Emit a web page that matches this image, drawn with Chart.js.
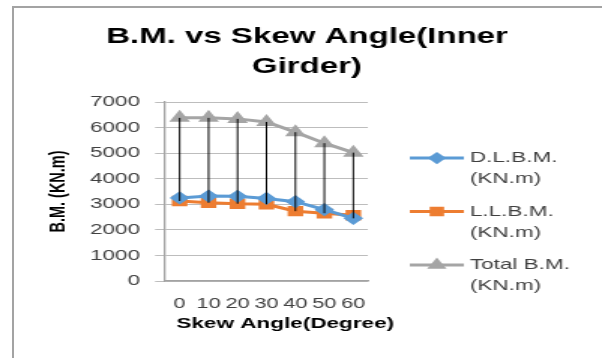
<!DOCTYPE html>
<html lang="en">
<head>
    <meta charset="UTF-8">
    <title>B.M. vs Skew Angle</title>
    <script src="https://cdn.jsdelivr.net/npm/chart.js@4.4.1/dist/chart.umd.min.js"></script>
    <style>
        html, body {
            margin: 0;
            padding: 0;
            background: #ffffff;
        }

        #page {
            position: relative;
            width: 602px;
            height: 358px;
            overflow: hidden;
        }

        /* frame of the chart object (only top and left edge are visible) */
        #frame {
            position: absolute;
            left: 12px;
            top: 6px;
            width: 600px;
            height: 360px;
            border-top: 2px solid #a3a3a3;
            border-left: 2px solid #a3a3a3;
        }

        /* the original picture is stretched horizontally, so we draw narrow and stretch */
        #stretch {
            position: absolute;
            left: 0;
            top: 0;
            width: 401px;
            height: 358px;
            transform: scaleX(1.5012);
            transform-origin: 0 0;
        }
    </style>
</head>
<body>
    <div id="page">
        <div id="frame"></div>
        <div id="stretch">
            <canvas id="bmChart"></canvas>
        </div>
    </div>

    <script>
        // data
        const skewAngles = ['0', '10', '20', '30', '40', '50', '60'];
        const deadLoadBM = [3250, 3320, 3310, 3230, 3100, 2790, 2450];
        const liveLoadBM = [3130, 3060, 3020, 3000, 2730, 2650, 2570];
        const totalBM = [6380, 6380, 6340, 6220, 5820, 5390, 5020];
        const yTicks = [0, 1000, 2000, 3000, 4000, 5000, 6000, 7000];

        const seriesNames = [['D.L.B.M.', '(KN.m)'], ['L.L.B.M.', '(KN.m)'], ['Total B.M.', '(KN.m)']];
        const FONT = "'Liberation Sans', Arial, sans-serif";

        // black high-low lines between the highest and lowest value of each angle
        const highLowLines = {
            id: 'highLowLines',
            afterDatasetsDraw(chart) {
                const ctx = chart.ctx;
                const x = chart.scales.x;
                const y = chart.scales.y;
                ctx.save();
                ctx.strokeStyle = '#000000';
                ctx.lineWidth = 1;
                skewAngles.forEach((a, i) => {
                    const vals = chart.data.datasets.map(d => d.data[i]);
                    const px = x.getPixelForValue(i);
                    ctx.beginPath();
                    ctx.moveTo(px, y.getPixelForValue(Math.max(...vals)));
                    ctx.lineTo(px, y.getPixelForValue(Math.min(...vals)));
                    ctx.stroke();
                });
                ctx.restore();
            }
        };

        // legend on the right with two-line labels, plus the horizontal axis title
        const sideLegend = {
            id: 'sideLegend',
            afterDraw(chart) {
                const ctx = chart.ctx;
                const left = chart.scales.yRight.left;
                const top = chart.chartArea.top;
                ctx.save();
                chart.data.datasets.forEach((ds, i) => {
                    const rowY = top + 56 + i * 53.5;
                    ctx.strokeStyle = ds.borderColor;
                    ctx.lineWidth = 3;
                    ctx.beginPath();
                    ctx.moveTo(left + 28, rowY);
                    ctx.lineTo(left + 64, rowY);
                    ctx.stroke();
                    ctx.fillStyle = ds.pointBackgroundColor;
                    ctx.strokeStyle = ds.pointBackgroundColor;
                    Chart.helpers.drawPoint(ctx, {
                        pointStyle: ds.pointStyle,
                        radius: ds.pointRadius - 0.5,
                        rotation: 0,
                        borderWidth: 1
                    }, left + 46, rowY);

                    ctx.fillStyle = '#404040';
                    ctx.font = '15px ' + FONT;
                    ctx.textAlign = 'left';
                    ctx.textBaseline = 'middle';
                    seriesNames[i].forEach((line, j) => {
                        ctx.fillText(line, left + 68, rowY + j * 21);
                    });
                });

                const area = chart.chartArea;
                ctx.fillStyle = '#000000';
                ctx.font = 'bold 15px ' + FONT;
                ctx.textAlign = 'center';
                ctx.textBaseline = 'middle';
                ctx.fillText('Skew Angle(Degree)', (area.left + area.right) / 2 + 12.5, area.bottom + 43);
                ctx.restore();
            }
        };

        const ctx = document.getElementById('bmChart').getContext('2d');
        new Chart(ctx, {
            type: 'line',
            data: {
                labels: skewAngles,
                datasets: [{
                    label: seriesNames[0].join(' '),
                    data: deadLoadBM,
                    borderColor: '#5b9bd5',
                    backgroundColor: '#5b9bd5',
                    pointBackgroundColor: '#5b9bd5',
                    pointBorderColor: '#5b9bd5',
                    pointStyle: 'rectRot',
                    pointRadius: 4.5,
                    borderWidth: 3,
                    tension: 0
                }, {
                    label: seriesNames[1].join(' '),
                    data: liveLoadBM,
                    borderColor: '#ed7d31',
                    backgroundColor: '#ed7d31',
                    pointBackgroundColor: '#ed7d31',
                    pointBorderColor: '#ed7d31',
                    pointStyle: 'rect',
                    pointRadius: 5.2,
                    borderWidth: 3,
                    tension: 0
                }, {
                    label: seriesNames[2].join(' '),
                    data: totalBM,
                    borderColor: '#a5a5a5',
                    backgroundColor: '#a5a5a5',
                    pointBackgroundColor: '#a5a5a5',
                    pointBorderColor: '#a5a5a5',
                    pointStyle: 'triangle',
                    pointRadius: 5,
                    borderWidth: 3,
                    tension: 0
                }]
            },
            options: {
                responsive: true,
                maintainAspectRatio: false,
                animation: false,
                devicePixelRatio: 1,
                layout: {
                    padding: { left: 8, top: 6, right: 0, bottom: 0 }
                },
                plugins: {
                    legend: { display: false },
                    tooltip: { enabled: false },
                    title: {
                        display: true,
                        text: ['B.M. vs Skew Angle(Inner', 'Girder)'],
                        color: '#000000',
                        font: { family: FONT, size: 22, weight: 'bold', lineHeight: 1.364 },
                        padding: { top: 16, bottom: 20 }
                    }
                },
                scales: {
                    x: {
                        offset: true,
                        grid: { display: false },
                        border: { display: true, color: '#a3a3a3', width: 1.5 },
                        ticks: {
                            color: '#404040',
                            font: { family: FONT, size: 14.5 },
                            autoSkip: false,
                            maxRotation: 0,
                            padding: 6
                        },
                        afterFit(scale) { scale.height = 77; }
                    },
                    y: {
                        min: 0,
                        max: 7000,
                        afterBuildTicks(scale) { scale.ticks = yTicks.map(v => ({ value: v })); },
                        grid: { color: '#bdbdbd', lineWidth: 1, drawTicks: true, tickLength: 6.7 },
                        border: { display: true, color: '#a3a3a3', width: 1.3 },
                        ticks: {
                            color: '#404040',
                            font: { family: FONT, size: 15 },
                            padding: 10,
                            callback: v => String(v)
                        },
                        title: {
                            display: true,
                            text: 'B.M. (KN.m)',
                            color: '#000000',
                            font: { family: FONT, size: 14.5, weight: 'bold' },
                            padding: { top: 22, bottom: 0 }
                        },
                        afterFit(scale) { scale.width = 102; }
                    },
                    yRight: {
                        position: 'right',
                        display: true,
                        grid: { display: false, drawTicks: false },
                        border: { display: false },
                        ticks: { display: false },
                        afterFit(scale) { scale.width = 156; }
                    }
                }
            },
            plugins: [highLowLines, sideLegend]
        });
    </script>
</body>
</html>
